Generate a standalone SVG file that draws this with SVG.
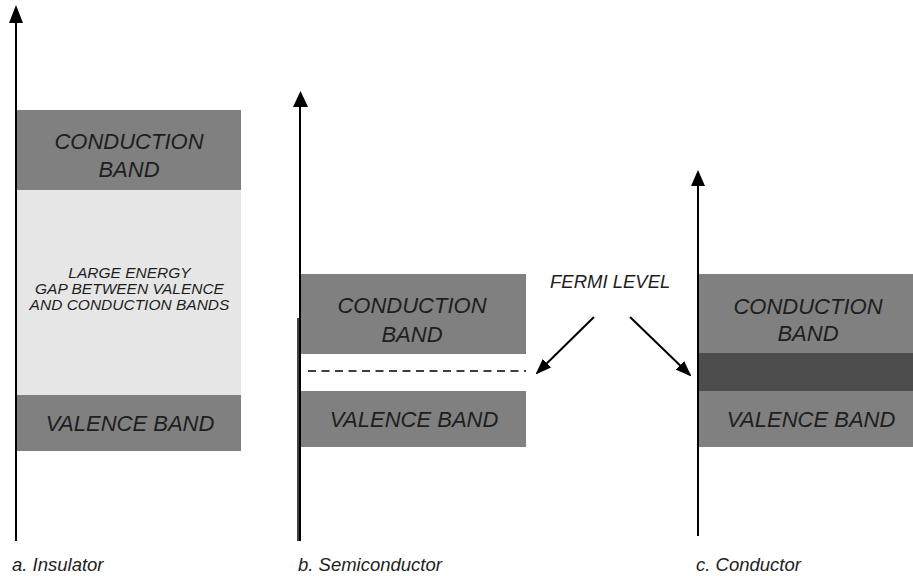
<svg xmlns="http://www.w3.org/2000/svg" width="913" height="576" viewBox="0 0 913 576">
<style>
.band{fill:#808080}
.gap{fill:#e6e6e6}
.dark{fill:#4d4d4d}
.bt{font-family:"Liberation Sans",Arial,sans-serif;font-style:italic;font-size:22px;fill:#1e1e1e;text-anchor:middle}
.gt{font-family:"Liberation Sans",Arial,sans-serif;font-style:italic;font-size:15.5px;fill:#1e1e1e;text-anchor:middle}
.lt{font-family:"Liberation Sans",Arial,sans-serif;font-style:italic;font-size:18.5px;fill:#1e1e1e}
.axis{stroke:#000;stroke-width:2;fill:none}
.ptr{stroke:#000;stroke-width:2;fill:none;marker-end:url(#ah)}
</style>
<defs>
<marker id="ah" markerWidth="16" markerHeight="12" refX="14" refY="6" orient="auto" markerUnits="userSpaceOnUse">
<path d="M0,0 L16,6 L0,12 Z" fill="#000"/>
</marker>
</defs>
<g id="insulator">
<rect class="band" x="17" y="110" width="224" height="80"/>
<rect class="gap" x="17" y="190" width="224" height="205"/>
<rect class="band" x="17" y="395" width="224" height="56"/>
<text class="bt" x="129" y="149">CONDUCTION</text>
<text class="bt" x="129" y="177">BAND</text>
<text class="gt" x="129.5" y="278">LARGE ENERGY</text>
<text class="gt" x="129.5" y="294">GAP BETWEEN VALENCE</text>
<text class="gt" x="129.5" y="310">AND CONDUCTION BANDS</text>
<text class="bt" x="130" y="431">VALENCE BAND</text>
<text class="lt" x="12" y="571">a. Insulator</text>
</g>
<g id="semiconductor">
<rect class="band" x="301" y="274" width="225" height="80"/>
<rect class="band" x="301" y="391" width="225" height="56"/>
<text class="bt" x="412" y="313">CONDUCTION</text>
<text class="bt" x="412" y="342">BAND</text>
<text class="bt" x="414" y="427">VALENCE BAND</text>
<line x1="308" y1="371" x2="526" y2="371" stroke="#000" stroke-width="1.6" stroke-dasharray="8,5.5"/>
<text class="lt" x="298" y="571">b. Semiconductor</text>
</g>
<g id="conductor">
<rect class="band" x="698" y="274" width="215" height="80"/>
<rect class="dark" x="698" y="353" width="215" height="38"/>
<rect class="band" x="698" y="391" width="215" height="56"/>
<text class="bt" x="808" y="314">CONDUCTION</text>
<text class="bt" x="808" y="341">BAND</text>
<text class="bt" x="811" y="427">VALENCE BAND</text>
<text class="lt" x="696" y="571">c. Conductor</text>
</g>
<g id="fermi-label">
<text class="lt" x="550" y="288">FERMI LEVEL</text>
</g>
<g id="connectors">
<line class="axis" x1="16" y1="541" x2="16" y2="20"/>
<path d="M16,5 L9,23 L23,23 Z" fill="#000"/>
<line class="axis" x1="300" y1="541" x2="300" y2="104"/>
<line x1="298" y1="318" x2="298" y2="541" stroke="#000" stroke-width="1.5"/>
<path d="M300.5,91 L293,107 L308,107 Z" fill="#000"/>
<line class="axis" x1="698" y1="536" x2="698" y2="182"/>
<path d="M698,170 L691,186 L705,186 Z" fill="#000"/>
<line class="ptr" x1="594" y1="317" x2="537" y2="373"/>
<line class="ptr" x1="630" y1="317" x2="690" y2="375"/>
</g>
</svg>
